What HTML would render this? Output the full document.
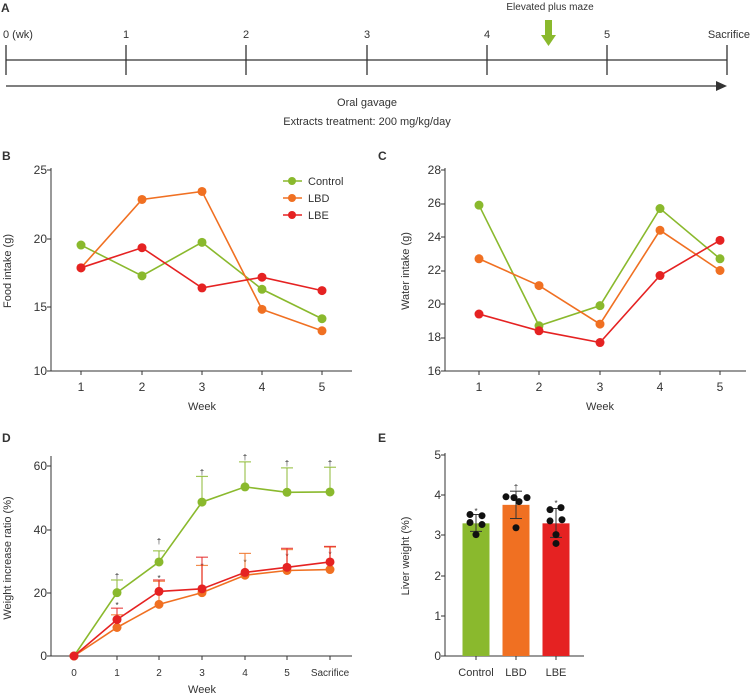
<!DOCTYPE html>
<html><head><meta charset="utf-8"><style>
body{margin:0;background:#fff}
svg{display:block;font-family:"Liberation Sans",sans-serif}
text{fill:#333}
.t{font-size:12px}
</style></head><body>
<svg id="s" width="752" height="696" viewBox="0 0 752 696" xmlns="http://www.w3.org/2000/svg">
<g font-size="11">
<!-- A -->
<text x="1" y="12" font-weight="bold" font-size="12">A</text>
<line x1="6" y1="60" x2="727" y2="60" stroke="#333" stroke-width="1.3"/>
<g stroke="#333" stroke-width="1.3">
<line x1="6" y1="45" x2="6" y2="75"/><line x1="126" y1="45" x2="126" y2="75"/><line x1="246" y1="45" x2="246" y2="75"/><line x1="367" y1="45" x2="367" y2="75"/><line x1="487" y1="45" x2="487" y2="75"/><line x1="607" y1="45" x2="607" y2="75"/><line x1="727" y1="45" x2="727" y2="75"/>
<line x1="6" y1="86" x2="718" y2="86"/></g>
<polygon points="727,86 716,81 716,91" fill="#333"/>
<text x="3" y="38">0 (wk)</text>
<text x="126" y="38" text-anchor="middle">1</text><text x="246" y="38" text-anchor="middle">2</text><text x="367" y="38" text-anchor="middle">3</text><text x="487" y="38" text-anchor="middle">4</text><text x="607" y="38" text-anchor="middle">5</text>
<text x="750" y="38" text-anchor="end">Sacrifice</text>
<text x="550" y="10" text-anchor="middle" font-size="10">Elevated plus maze</text>
<rect x="545" y="20" width="7" height="16" fill="#8ab92d"/><polygon points="541,35 556,35 548.5,46" fill="#8ab92d"/>
<text x="367" y="106" text-anchor="middle">Oral gavage</text>
<text x="367" y="125" text-anchor="middle">Extracts treatment: 200 mg/kg/day</text>
<!-- B -->
<text x="2" y="160" font-weight="bold" font-size="12">B</text>
<g class="t"><text x="47" y="174" text-anchor="end">25</text><text x="47" y="243" text-anchor="end">20</text><text x="47" y="311" text-anchor="end">15</text><text x="47" y="375" text-anchor="end">10</text>
<text x="81" y="391" text-anchor="middle">1</text><text x="142" y="391" text-anchor="middle">2</text><text x="202" y="391" text-anchor="middle">3</text><text x="262" y="391" text-anchor="middle">4</text><text x="322" y="391" text-anchor="middle">5</text></g>
<text x="202" y="410" text-anchor="middle">Week</text>
<text transform="translate(11,271) rotate(-90)" text-anchor="middle">Food intake (g)</text>
<text x="308" y="185">Control</text><text x="308" y="202">LBD</text><text x="308" y="219">LBE</text>
<!-- C -->
<text x="378" y="160" font-weight="bold" font-size="12">C</text>
<g class="t"><text x="441" y="174" text-anchor="end">28</text><text x="441" y="207" text-anchor="end">26</text><text x="441" y="241" text-anchor="end">24</text><text x="441" y="274" text-anchor="end">22</text><text x="441" y="308" text-anchor="end">20</text><text x="441" y="341" text-anchor="end">18</text><text x="441" y="375" text-anchor="end">16</text>
<text x="479" y="391" text-anchor="middle">1</text><text x="539" y="391" text-anchor="middle">2</text><text x="600" y="391" text-anchor="middle">3</text><text x="660" y="391" text-anchor="middle">4</text><text x="720" y="391" text-anchor="middle">5</text></g>
<text x="600" y="410" text-anchor="middle">Week</text>
<text transform="translate(409,271) rotate(-90)" text-anchor="middle">Water intake (g)</text>
<!-- D -->
<text x="2" y="442" font-weight="bold" font-size="12">D</text>
<g class="t"><text x="47" y="470" text-anchor="end">60</text><text x="47" y="534" text-anchor="end">40</text><text x="47" y="597" text-anchor="end">20</text><text x="47" y="660" text-anchor="end">0</text></g>
<g font-size="10"><text x="74" y="676" text-anchor="middle">0</text><text x="117" y="676" text-anchor="middle">1</text><text x="159" y="676" text-anchor="middle">2</text><text x="202" y="676" text-anchor="middle">3</text><text x="245" y="676" text-anchor="middle">4</text><text x="287" y="676" text-anchor="middle">5</text><text x="330" y="676" text-anchor="middle">Sacrifice</text></g>
<text x="202" y="693" text-anchor="middle">Week</text>
<text transform="translate(11,558) rotate(-90)" text-anchor="middle">Weight increase ratio (%)</text>
<g font-size="8" fill="#555" text-anchor="middle">
<text x="117" y="579">†</text><text x="159" y="544">†</text><text x="202" y="475">†</text><text x="245" y="460">†</text><text x="287" y="466">†</text><text x="330" y="466">†</text>
<text x="117" y="608">*</text><text x="159" y="581">*</text><text x="202" y="569">*</text><text x="245" y="565">*</text><text x="287" y="559">*</text><text x="330" y="557">*</text></g>
<!-- E -->
<text x="378" y="442" font-weight="bold" font-size="12">E</text>
<g class="t"><text x="441" y="459" text-anchor="end">5</text><text x="441" y="499" text-anchor="end">4</text><text x="441" y="539" text-anchor="end">3</text><text x="441" y="580" text-anchor="end">2</text><text x="441" y="620" text-anchor="end">1</text><text x="441" y="660" text-anchor="end">0</text></g>
<text x="476" y="676" text-anchor="middle">Control</text><text x="516" y="676" text-anchor="middle">LBD</text><text x="556" y="676" text-anchor="middle">LBE</text>
<text transform="translate(409,556) rotate(-90)" text-anchor="middle">Liver weight (%)</text>
<g font-size="8" fill="#555" text-anchor="middle"><text x="476" y="514">*</text><text x="516" y="490">†</text><text x="556" y="506">*</text></g>
</g>
<g id="g"></g>
</svg>
<script>
var g=document.getElementById('g'),NS='http://www.w3.org/2000/svg';
function el(t,a){var e=document.createElementNS(NS,t);for(var k in a)e.setAttribute(k,a[k]);g.appendChild(e);return e}
var G='#8ab92d',O='#f07022',R='#e52222',K='#333';
function axes(x0,y0,x1,yt,xt,yt2){el('line',{x1:x0,y1:yt,x2:x0,y2:y0,stroke:K});el('line',{x1:x0,y1:y0,x2:x1,y2:y0,stroke:K});
xt.forEach(function(x){el('line',{x1:x,y1:y0,x2:x,y2:y0+4,stroke:K})});yt2.forEach(function(y){el('line',{x1:x0-4,y1:y,x2:x0,y2:y,stroke:K})});}
function series(xs,ys,c,r){el('polyline',{points:xs.map(function(x,i){return x+','+ys[i]}).join(' '),fill:'none',stroke:c,'stroke-width':1.6});xs.forEach(function(x,i){el('circle',{cx:x,cy:ys[i],r:r||4.5,fill:c})});}
var bx=[81,142,202,262,322];axes(51,371,352,168,bx,[170,239,307,371]);
function by(v){return 371-(v-10)*13.4}
series(bx,[19.4,17.1,19.6,16.1,13.9].map(by),G);
series(bx,[17.7,22.8,23.4,14.6,13.0].map(by),O);
series(bx,[17.7,19.2,16.2,17.0,16.0].map(by),R);
[[G,181],[O,198],[R,215]].forEach(function(p){el('line',{x1:283,y1:p[1],x2:302,y2:p[1],stroke:p[0],'stroke-width':1.6});el('circle',{cx:292,cy:p[1],r:4,fill:p[0]})});
var cx=[479,539,600,660,720];axes(445,371,746,168,cx,[170,204,237,271,304,338,371]);
function cy(v){return 371-(v-16)*16.75}
series(cx,[25.9,18.7,19.9,25.7,22.7].map(cy),G);
series(cx,[22.7,21.1,18.8,24.4,22.0].map(cy),O);
series(cx,[19.4,18.4,17.7,21.7,23.8].map(cy),R);
var dx=[74,117,159,202,245,287,330];axes(51,656,352,456,dx,[466,530,593,656]);
function dy(v){return 656-v*3.167}
function errs(vals,tops,c){vals.forEach(function(v,i){if(!tops[i])return;var x=dx[i];el('line',{x1:x,y1:dy(v),x2:x,y2:dy(tops[i]),stroke:c,'stroke-width':1.2,opacity:0.8});el('line',{x1:x-6,y1:dy(tops[i]),x2:x+6,y2:dy(tops[i]),stroke:c,'stroke-width':1.2,opacity:0.8})})}
var cg=[0,20,29.7,48.6,53.4,51.7,51.8],co=[0,9,16.3,20,25.5,27,27.3],cr=[0,11.5,20.4,21.2,26.4,28,29.7];
errs(cg,[0,24,33.2,56.7,61.3,59.4,59.6],G);errs(co,[0,13,23.6,28.6,32.4,33.6,34.4],O);errs(cr,[0,15.1,24,31.2,0,34,34.6],R);
series(dx,cg.map(dy),G);series(dx,co.map(dy),O);series(dx,cr.map(dy),R);
axes(445,656,584,453,[476,516,556],[455,495,535,576,616,656]);
function ey(v){return 656-v*40.2}
[[476,3.3,G,3.1,3.52],[516,3.76,O,3.42,4.1],[556,3.3,R,2.95,3.67]].forEach(function(b){el('rect',{x:b[0]-13.5,y:ey(b[1]),width:27,height:656-ey(b[1]),fill:b[2]});
el('line',{x1:b[0],y1:ey(b[3]),x2:b[0],y2:ey(b[4]),stroke:K});el('line',{x1:b[0]-6,y1:ey(b[3]),x2:b[0]+6,y2:ey(b[3]),stroke:K});el('line',{x1:b[0]-6,y1:ey(b[4]),x2:b[0]+6,y2:ey(b[4]),stroke:K});});
[[470,3.52],[482,3.49],[470,3.32],[482,3.27],[476,3.02],[506,3.96],[514,3.94],[519,3.84],[527,3.94],[516,3.19],[550,3.64],[561,3.69],[550,3.36],[562,3.39],[556,3.02],[556,2.8]].forEach(function(p){el('circle',{cx:p[0],cy:ey(p[1]),r:3.5,fill:'#111'})});
</script>
</body></html>
